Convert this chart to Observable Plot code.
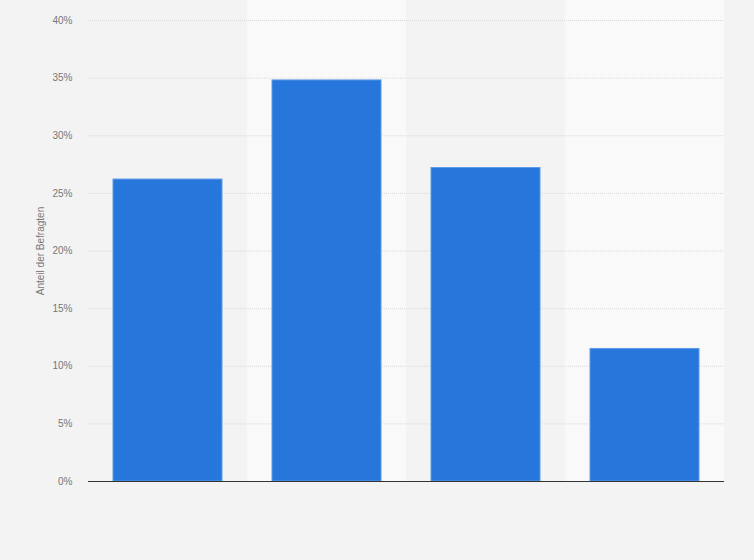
<!DOCTYPE html>
<html><head><meta charset="utf-8">
<script src="https://cdn.jsdelivr.net/npm/d3@7"></script>
<script src="https://cdn.jsdelivr.net/npm/@observablehq/plot@0.6"></script>
<style>
html,body{margin:0;padding:0;background:#f3f3f3;}
</style>
</head><body>
<div id="chart"></div>
<script>
const categories = ["Kategorie 1", "Kategorie 2", "Kategorie 3", "Kategorie 4"];
const values = [26.2, 34.8, 27.2, 11.5];
const shadedCategories = ["Kategorie 2", "Kategorie 4"];
const yTicks = [0, 5, 10, 15, 20, 25, 30, 35, 40];
const yLabel = "Anteil der Befragten";

const data = categories.map((c, i) => ({category: c, value: values[i]}));
const bands = shadedCategories.map(c => ({category: c}));

const chart = Plot.plot({
  width: 754,
  height: 560,
  marginLeft: 88,
  marginRight: 30,
  marginTop: 20,
  marginBottom: 79,
  style: {background: "#f3f3f3", fontFamily: "'Liberation Sans', Arial, sans-serif", fontSize: "10px", color: "#666"},
  x: {domain: categories, padding: 0, axis: null},
  y: {domain: [0, 40], ticks: yTicks, tickFormat: d => d + "%", label: null},
  marks: [
    Plot.barY(bands, {x: "category", y1: 0, y2: 40, fill: "#f9f9f9", insetTop: -20}),
    Plot.gridY(yTicks, {stroke: "#d8d8d8", strokeOpacity: 1, strokeDasharray: "1,1"}),
    Plot.axisY(yTicks, {tickSize: 0, tickPadding: 16, tickFormat: d => d + "%", fill: "#777", fontSize: 10, label: null}),
    Plot.text([yLabel], {frameAnchor: "left", textAnchor: "middle", dx: -48, rotate: -90, fill: "#777", fontSize: 10}),
    Plot.barY(data, {x: "category", y: "value", fill: "#2776db", stroke: "#5c9be8", strokeWidth: 1, insetLeft: 25, insetRight: 25}),
    Plot.ruleY([0], {stroke: "#333", strokeWidth: 1.2})
  ]
});
document.getElementById("chart").append(chart);
</script>
</body></html>
